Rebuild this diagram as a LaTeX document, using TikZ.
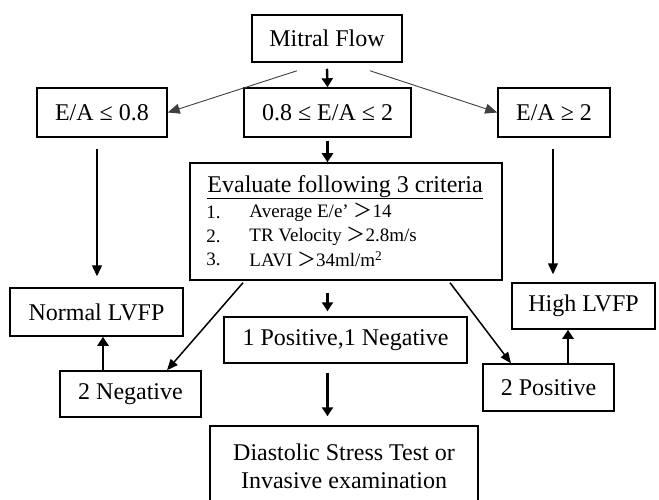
\documentclass[tikz,border=0pt]{standalone}
\usepackage{fontspec}
\setmainfont{Liberation Serif}
\newfontfamily\cjk{Noto Sans CJK SC}
\usetikzlibrary{arrows.meta,calc}
\begin{document}
\begin{tikzpicture}[x=1pt,y=-1pt,
 box/.style={draw, line width=1.5pt, inner sep=0pt, font=\fontsize{24}{28}\selectfont, align=center},
 txt/.style={inner sep=0pt, anchor=west},
 thickarrow/.style={line width=2.4pt, -{Triangle[length=9pt,width=11pt]}},
 longarrow/.style={line width=1.5pt, -{Triangle[length=11pt,width=10pt]}},
 thinarrow/.style={line width=0.9pt, draw=black!75, -{Triangle[length=12pt,width=10pt]}},
 diagarrow/.style={line width=1.5pt, -{Triangle[length=11pt,width=9pt]}}]
\useasboundingbox (0,0) rectangle (659,500);
\node[box, minimum width=150pt, minimum height=47pt] (mitral) at (327,38.5) {Mitral Flow};
\node[box, minimum width=130pt, minimum height=49pt] (ea1) at (102,112.5) {E/A ≤ 0.8};
\node[box, minimum width=167pt, minimum height=49pt] (ea2) at (327.5,112.5) {0.8 ≤ E/A ≤ 2};
\node[box, minimum width=112pt, minimum height=49pt] (ea3) at (554,112.5) {E/A ≥ 2};
\node[box, minimum width=312pt, minimum height=117pt] (eval) at (346,221.5) {};
\node[txt, font=\fontsize{24}{28}\selectfont] (evtitle) at ($(eval.north west)+(18pt,-25pt)$) {\underline{Evaluate following 3 criteria}};
\node[txt, font=\fontsize{19}{22}\selectfont] (n1) at ($(eval.north west)+(17pt,-50pt)$) {1.};
\node[txt, font=\fontsize{19}{22}\selectfont] (n2) at ($(eval.north west)+(17pt,-74pt)$) {2.};
\node[txt, font=\fontsize{19}{22}\selectfont] (n3) at ($(eval.north west)+(17pt,-97pt)$) {3.};
\node[txt, font=\fontsize{19}{22}\selectfont] (i1) at ($(eval.north west)+(60pt,-50pt)$) {Average E/e’ {\cjk ＞}14};
\node[txt, font=\fontsize{19}{22}\selectfont] (i2) at ($(eval.north west)+(60pt,-74pt)$) {TR Velocity {\cjk ＞}2.8m/s};
\node[txt, font=\fontsize{19}{22}\selectfont] (i3) at ($(eval.north west)+(60pt,-97pt)$) {LAVI {\cjk ＞}34ml/m\textsuperscript{2}};
\node[box, minimum width=173pt, minimum height=48pt] (normal) at (96.5,312) {Normal LVFP};
\node[box, minimum width=143pt, minimum height=46pt] (high) at (583.5,306) {High LVFP};
\node[box, minimum width=243pt, minimum height=46pt] (pn) at (345.5,340) {1 Positive,1 Negative};
\node[box, minimum width=141pt, minimum height=46pt] (neg2) at (130.5,394) {2 Negative};
\node[box, minimum width=131pt, minimum height=47pt] (pos2) at (548.5,387.5) {2 Positive};
\node[box, minimum width=268pt, minimum height=80pt] (diast) at (344,466) {Diastolic Stress Test or\\Invasive examination};
% connectors
\draw[thickarrow] ([yshift=-6pt]mitral.south) -- (ea2.north);
\draw[thinarrow] ([xshift=-30pt,yshift=-8pt]mitral.south) -- (ea1.east);
\draw[thinarrow] ([xshift=43pt,yshift=-8pt]mitral.south) -- (ea3.west);
\draw[thickarrow] ([yshift=-3pt]ea2.south) -- (ea2.south |- eval.north);
\draw[longarrow] ($(ea1.south)+(-5pt,-11pt)$) -- ($(ea1.south |- normal.north)+(-5pt,11pt)$);
\draw[longarrow] ($(ea3.south)+(-1pt,-11pt)$) -- ($(ea3.south |- high.north)+(-1pt,8pt)$);
\draw[thickarrow] ($(ea2.south |- eval.south)+(0,-12pt)$) -- ($(ea2.south |- pn.north)+(0,5pt)$);
\draw[thickarrow] ($(ea2.south |- pn.south)+(0,-9pt)$) -- ($(ea2.south |- diast.north)+(0,9pt)$);
\draw[diagarrow] ([xshift=-103pt,yshift=-2pt]eval.south) -- ([xshift=36.5pt]neg2.north);
\draw[diagarrow] ([xshift=104pt,yshift=-2pt]eval.south) -- ([xshift=-37.5pt]pos2.north);
\draw[thickarrow] ([xshift=-27.5pt]neg2.north) -- ([xshift=6.5pt]normal.south);
\draw[thickarrow] ([xshift=19.5pt]pos2.north) -- ([xshift=-15.5pt]high.south);
\end{tikzpicture}
\end{document}
